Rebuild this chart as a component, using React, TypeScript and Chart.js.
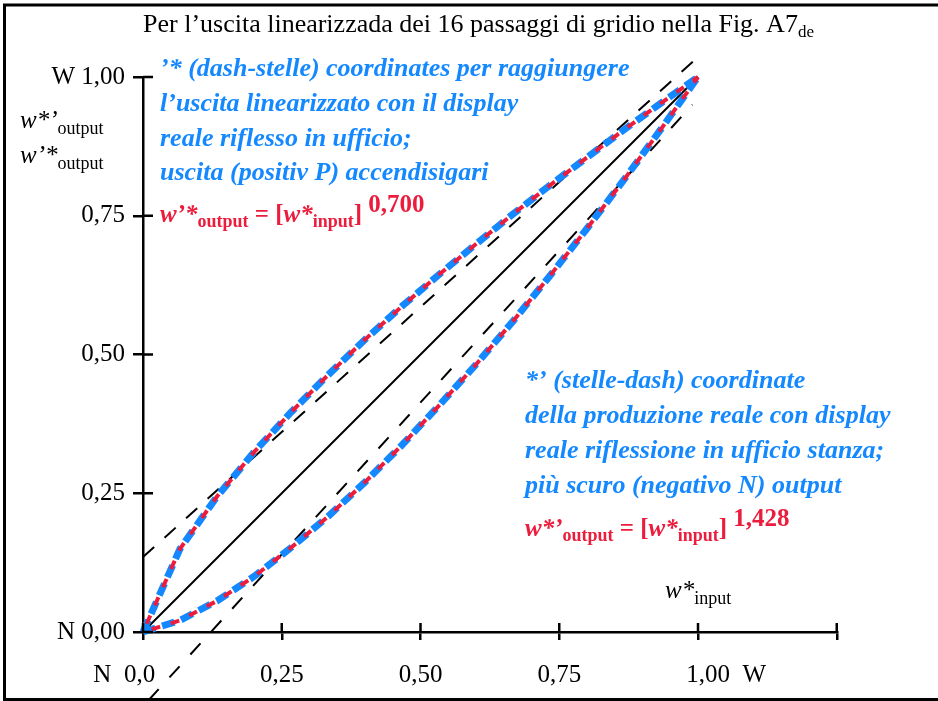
import React, { useEffect, useRef } from "react";
import { Chart, registerables } from "chart.js";

Chart.register(...registerables);

// ---- data ----
const inputLevels = [0, 0.0667, 0.1333, 0.2, 0.2667, 0.3333, 0.4, 0.4667, 0.5333, 0.6, 0.6667, 0.7333, 0.8, 0.8667, 0.9333, 1.0];
const upperOutput = [0, 0.15, 0.244, 0.324, 0.396, 0.463, 0.527, 0.587, 0.644, 0.699, 0.753, 0.805, 0.855, 0.905, 0.953, 1.0];
const lowerOutput = [0, 0.021, 0.056, 0.1, 0.152, 0.208, 0.27, 0.337, 0.408, 0.482, 0.56, 0.642, 0.727, 0.815, 0.906, 1.0];

const diagonalX = [0, 1];
const diagonalY = [0, 1];
const upperGuideX = [0, 1];
const upperGuideY = [0.135, 1.036];
const lowerGuideX = [0.01, 0.99];
const lowerGuideY = [-0.123, 0.95];

const xTickValues = [0, 0.25, 0.5, 0.75, 1.0, 1.25];
const xTickLabels = ["N  0,0\u2003  ", "0,25", "0,50", "0,75", "\u2003\u2003 1,00  W", ""];
const yTickLabels = ["N 0,00", "0,25", "0,50", "0,75", "W 1,00"];

const SERIF = "'Liberation Serif', 'Times New Roman', serif";
const BLUE = "#1488ff";
const RED = "#ec1c3c";

type Run = { t: string; f: string; dy?: number; c?: string };

function font(style: string, size: number) {
  return `${style} ${size}px ${SERIF}`;
}

function drawRuns(ctx: CanvasRenderingContext2D, x: number, y: number, runs: Run[]) {
  let cx = x;
  for (const r of runs) {
    ctx.font = r.f;
    ctx.fillStyle = r.c || "#000";
    ctx.fillText(r.t, cx, y + (r.dy || 0));
    cx += ctx.measureText(r.t).width;
  }
}

function pts(xs: number[], ys: number[]) {
  return xs.map((x, i) => ({ x, y: ys[i] }));
}

const decorPlugin = {
  id: "decor",
  afterDraw(chart: any) {
    const ctx: CanvasRenderingContext2D = chart.ctx;
    const xs = chart.scales.x;
    const ys = chart.scales.y;
    const area = chart.chartArea;
    ctx.save();
    // inner halves of tick marks
    ctx.strokeStyle = "#000";
    ctx.lineWidth = 2.5;
    ctx.beginPath();
    xs.ticks.forEach((_: any, i: number) => {
      const px = xs.getPixelForTick(i);
      ctx.moveTo(px, area.bottom);
      ctx.lineTo(px, area.bottom - 9);
    });
    ys.ticks.forEach((_: any, i: number) => {
      const py = ys.getPixelForTick(i);
      ctx.moveTo(area.left, py);
      ctx.lineTo(area.left + 10, py);
    });
    ctx.stroke();

    // frame
    ctx.lineWidth = 3;
    ctx.beginPath();
    ctx.moveTo(3, 5);
    ctx.lineTo(938, 5);
    ctx.moveTo(4.5, 4);
    ctx.lineTo(4.5, 700);
    ctx.moveTo(3, 699.5);
    ctx.lineTo(938, 699.5);
    ctx.stroke();

    ctx.textBaseline = "alphabetic";
    ctx.textAlign = "left";

    // title
    drawRuns(ctx, 143, 32, [
      { t: "Per l\u2019uscita linearizzada dei 16 passaggi di gridio nella Fig. A7", f: font("", 26) },
      { t: "de", f: font("", 17), dy: 5 },
    ]);

    // left axis labels
    drawRuns(ctx, 20, 128, [
      { t: "w*\u2019", f: font("italic", 25) },
      { t: "output", f: font("", 18), dy: 6 },
    ]);
    drawRuns(ctx, 20, 163, [
      { t: "w\u2019*", f: font("italic", 25) },
      { t: "output", f: font("", 18), dy: 6 },
    ]);

    // x axis name
    drawRuns(ctx, 665, 598, [
      { t: "w*", f: font("italic", 25) },
      { t: "input", f: font("", 18), dy: 6 },
    ]);

    const bi = font("italic bold", 26);
    const rbi = font("italic bold", 25);
    const b = font("bold", 25);
    const bs = font("bold", 18);

    // upper block
    const b1 = [
      "\u2019* (dash-stelle) coordinates per raggiungere",
      "l\u2019uscita linearizzato con il display",
      "reale riflesso in ufficio;",
      "uscita (positiv P) accendisigari",
    ];
    const b1y = [76, 111, 146, 180];
    b1.forEach((t, i) => drawRuns(ctx, 160, b1y[i], [{ t, f: bi, c: BLUE }]));
    drawRuns(ctx, 160, 222, [
      { t: "w\u2019*", f: rbi, c: RED },
      { t: "output", f: bs, c: RED, dy: 5 },
      { t: " = [", f: b, c: RED },
      { t: "w*", f: rbi, c: RED },
      { t: "input", f: bs, c: RED, dy: 5 },
      { t: "] ", f: b, c: RED },
      { t: "0,700", f: b, c: RED, dy: -10 },
    ]);

    // lower block
    const b2 = [
      "*\u2019 (stelle-dash) coordinate",
      "della produzione reale con display",
      "reale riflessione in ufficio stanza;",
      "pi\u00f9 scuro (negativo N) output",
    ];
    const b2y = [388, 423, 458, 493];
    b2.forEach((t, i) => drawRuns(ctx, 525, b2y[i], [{ t, f: bi, c: BLUE }]));
    drawRuns(ctx, 525, 536, [
      { t: "w*\u2019", f: rbi, c: RED },
      { t: "output", f: bs, c: RED, dy: 5 },
      { t: " = [", f: b, c: RED },
      { t: "w*", f: rbi, c: RED },
      { t: "input", f: bs, c: RED, dy: 5 },
      { t: "] ", f: b, c: RED },
      { t: "1,428", f: b, c: RED, dy: -10 },
    ]);
    ctx.restore();
  },
};

export default function App() {
  const ref = useRef<HTMLCanvasElement | null>(null);

  useEffect(() => {
    if (!ref.current) return;
    const line = (data: any[], color: string, width: number, dash: number[], offset: number, order: number) => ({
      data,
      showLine: true,
      borderColor: color,
      backgroundColor: color,
      borderWidth: width,
      borderDash: dash,
      borderDashOffset: offset,
      pointRadius: 0,
      pointHoverRadius: 0,
      tension: 0,
      fill: false,
      clip: false,
      order,
      borderCapStyle: "butt" as const,
    });
    const chart = new Chart(ref.current, {
      type: "scatter",
      data: {
        datasets: [
          line(pts(inputLevels, upperOutput), RED, 4, [9, 11], -9, 0),
          line(pts(inputLevels, lowerOutput), RED, 4, [9, 11], -9, 0),
          line(pts(inputLevels, upperOutput), BLUE, 7, [13, 7], 0, 1),
          line(pts(inputLevels, lowerOutput), BLUE, 7, [13, 7], 0, 1),
          line(pts(diagonalX, diagonalY), "#000", 2, [], 0, 2),
          line(pts(upperGuideX, upperGuideY), "#000", 2, [15, 14], 0, 2),
          line(pts(lowerGuideX, lowerGuideY), "#000", 2, [15, 16], 0, 2),
        ],
      },
      options: {
        animation: false,
        responsive: false,
        devicePixelRatio: 1,
        events: [],
        layout: { padding: { left: 0, right: 101.25, top: 77, bottom: 0 } },
        plugins: { legend: { display: false }, tooltip: { enabled: false }, title: { display: false } },
        scales: {
          x: {
            type: "linear",
            position: "bottom",
            min: 0,
            max: 1.25,
            afterFit: (s: any) => {
              s.height = 69;
            },
            afterBuildTicks: (s: any) => {
              s.ticks = xTickValues.map((v) => ({ value: v }));
            },
            ticks: {
              autoSkip: false,
              maxRotation: 0,
              color: "#000",
              padding: 20,
              font: { family: SERIF, size: 25 },
              callback: (_v: any, i: number) => xTickLabels[i],
            },
            grid: { drawOnChartArea: false, drawTicks: true, tickLength: 8, color: "#000", lineWidth: 2.5 },
            border: { display: true, color: "#000", width: 2.5 },
          },
          y: {
            type: "linear",
            position: "left",
            min: 0,
            max: 1,
            afterFit: (s: any) => {
              s.width = 143;
            },
            ticks: {
              stepSize: 0.25,
              autoSkip: false,
              color: "#000",
              padding: 8,
              font: { family: SERIF, size: 25 },
              callback: (_v: any, i: number) => yTickLabels[i],
            },
            grid: { drawOnChartArea: false, drawTicks: true, tickLength: 10, color: "#000", lineWidth: 2.5 },
            border: { display: true, color: "#000", width: 2.5 },
          },
        },
      },
      plugins: [decorPlugin],
    });
    return () => chart.destroy();
  }, []);

  return (
    <div style={{ position: "absolute", left: 0, top: 0, width: 938, height: 701, background: "#fff" }}>
      <canvas ref={ref} width={938} height={701} style={{ display: "block", width: 938, height: 701 }} />
    </div>
  );
}
